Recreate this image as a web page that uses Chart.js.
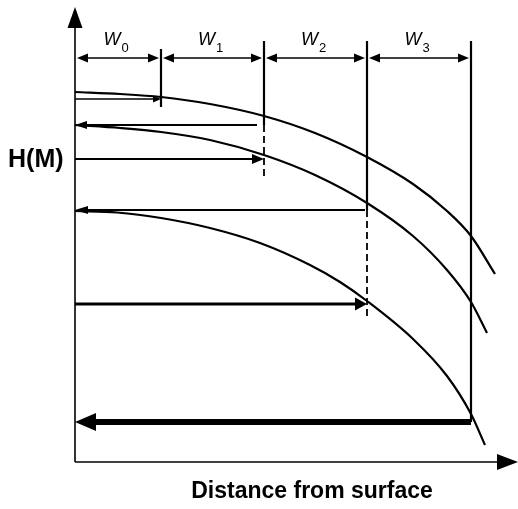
<!DOCTYPE html>
<html>
<head>
<meta charset="utf-8">
<script src="https://cdn.jsdelivr.net/npm/chart.js@4/dist/chart.umd.min.js"></script>
<style>
html, body { margin: 0; padding: 0; background: #fff; }
#wrap { width: 518px; height: 509px; position: relative; }
</style>
</head>
<body>
<div id="wrap"><canvas id="schema"></canvas></div>
<script>
// limites des zones W0..W3 (distance depuis la surface)
const limitesW = [0, 0.86, 1.89, 2.92, 3.96];
const indicesW = ['0', '1', '2', '3'];
const coteY = 4.04;

// courbes H(M)
const courbe1X = [0, 0.45, 0.86, 1.35, 1.89, 2.40, 2.92, 3.38, 3.72, 3.96, 4.20];
const courbe1Y = [3.70, 3.68, 3.65, 3.58, 3.46, 3.29, 3.05, 2.78, 2.51, 2.26, 1.88];
const courbe2X = [0, 0.45, 0.86, 1.35, 1.89, 2.40, 2.92, 3.38, 3.72, 3.96, 4.12];
const courbe2Y = [3.37, 3.34, 3.30, 3.22, 3.07, 2.87, 2.59, 2.26, 1.92, 1.60, 1.29];
const courbe3X = [0, 0.42, 0.86, 1.35, 1.85, 2.35, 2.65, 2.92, 3.38, 3.72, 3.96, 4.10];
const courbe3Y = [2.51, 2.495, 2.44, 2.34, 2.19, 1.97, 1.80, 1.61, 1.23, 0.86, 0.48, 0.17];

// traits verticaux aux limites (partie pleine puis pointillés)
const traitsHaut = [4.13, 4.21, 4.21, 4.21];
const traitsBas = [3.55, 3.37, 2.52, 0.40];
const pointillesBas = [null, 2.85, 1.42, null];

// flèches horizontales
const flechesY = [3.63, 3.37, 3.03, 2.52, 1.58, 0.40];
const flechesDebut = [0, 1.82, 0, 2.90, 0, 3.96];
const flechesFin = [0.86, 0, 1.89, 0, 2.92, 0];

// axes
const axeXMax = 4.43;
const axeYMax = 4.55;

// styles des flèches (épaisseur, longueur et largeur de la tête)
const flechesEpaisseur = [1.6, 2, 2, 2, 3, 6];
const flechesTete = [[8, 7], [12, 8], [12, 10], [13, 8], [12, 13], [21, 18]];

const noir = '#000';
let datasets = [];

function trait(xs, ys, options) {
    datasets.push(Object.assign({
        data: xs.map((x, i) => ({ x: x, y: ys[i] })),
        showLine: true,
        borderColor: noir,
        backgroundColor: noir,
        borderWidth: 2.2,
        pointRadius: 0,
        pointHoverRadius: 0,
        clip: false
    }, options));
}

// courbes
trait(courbe1X, courbe1Y, { cubicInterpolationMode: 'monotone' });
trait(courbe2X, courbe2Y, { cubicInterpolationMode: 'monotone' });
trait(courbe3X, courbe3Y, { cubicInterpolationMode: 'monotone' });

// traits verticaux
for (let i = 0; i < 4; i++) {
    let x = limitesW[i + 1];
    trait([x, x], [traitsHaut[i], traitsBas[i]], {});
    if (pointillesBas[i] !== null) {
        trait([x, x], [traitsBas[i], pointillesBas[i]], { borderDash: [7, 4], borderWidth: 1.8 });
    }
}

// cotes W0..W3
for (let i = 0; i < 4; i++) {
    trait([limitesW[i] + 0.02, limitesW[i + 1] - 0.02], [coteY, coteY], {
        borderWidth: 1.6,
        tete: { debut: true, fin: true, long: 11, larg: 9 }
    });
}

// flèches horizontales
for (let i = 0; i < flechesY.length; i++) {
    trait([flechesDebut[i], flechesFin[i]], [flechesY[i], flechesY[i]], {
        borderWidth: flechesEpaisseur[i],
        tete: { fin: true, long: flechesTete[i][0], larg: flechesTete[i][1] }
    });
}

// axes
trait([0, axeXMax], [0, 0], { borderWidth: 1.6, tete: { fin: true, long: 21, larg: 16 } });
trait([0, 0], [0, axeYMax], { borderWidth: 1.6, tete: { fin: true, long: 21, larg: 15 } });

// direction d'une extrémité
function direction(p, q) {
    let dx = p.x - q.x;
    let dy = p.y - q.y;
    let l = Math.hypot(dx, dy) || 1;
    return { ux: dx / l, uy: dy / l, nx: -dy / l, ny: dx / l };
}

function extremites(ds, pts) {
    let ext = [];
    if (ds.tete.fin) ext.push([pts[pts.length - 1], pts[pts.length - 2]]);
    if (ds.tete.debut) ext.push([pts[0], pts[1]]);
    return ext;
}

// plugin pour les têtes de flèches
const pluginFleches = {
    id: 'fleches',
    beforeDatasetDraw(chart, args) {
        let ds = chart.data.datasets[args.index];
        if (!ds.tete) return;
        let ctx = chart.ctx;
        ctx.save();
        ctx.beginPath();
        ctx.rect(0, 0, chart.width, chart.height);
        extremites(ds, args.meta.data).forEach(([p, q]) => {
            let d = direction(p, q);
            let h = ds.borderWidth / 2 + 1;
            let recul = ds.tete.long * 0.6;
            ctx.moveTo(p.x + d.ux * 3 + d.nx * h, p.y + d.uy * 3 + d.ny * h);
            ctx.lineTo(p.x - d.ux * recul + d.nx * h, p.y - d.uy * recul + d.ny * h);
            ctx.lineTo(p.x - d.ux * recul - d.nx * h, p.y - d.uy * recul - d.ny * h);
            ctx.lineTo(p.x + d.ux * 3 - d.nx * h, p.y + d.uy * 3 - d.ny * h);
            ctx.closePath();
        });
        ctx.clip('evenodd');
    },
    afterDatasetDraw(chart, args) {
        let ds = chart.data.datasets[args.index];
        if (!ds.tete) return;
        let ctx = chart.ctx;
        ctx.restore();
        ctx.save();
        ctx.fillStyle = noir;
        extremites(ds, args.meta.data).forEach(([p, q]) => {
            let d = direction(p, q);
            let bx = p.x - d.ux * ds.tete.long;
            let by = p.y - d.uy * ds.tete.long;
            let w = ds.tete.larg / 2;
            ctx.beginPath();
            ctx.moveTo(p.x, p.y);
            ctx.lineTo(bx + d.nx * w, by + d.ny * w);
            ctx.lineTo(bx - d.nx * w, by - d.ny * w);
            ctx.closePath();
            ctx.fill();
        });
        ctx.restore();
    }
};

// plugin pour les textes
const pluginTextes = {
    id: 'textes',
    afterDraw(chart) {
        let ctx = chart.ctx;
        let sx = chart.scales.x;
        let sy = chart.scales.y;
        ctx.save();
        ctx.fillStyle = noir;
        ctx.textBaseline = 'alphabetic';

        // W0..W3
        for (let i = 0; i < 4; i++) {
            let cx = sx.getPixelForValue((limitesW[i] + limitesW[i + 1]) / 2) - 2;
            let y = sy.getPixelForValue(4.17);
            ctx.font = 'italic 18px "Liberation Sans", Arial, sans-serif';
            let lw = ctx.measureText('W').width;
            ctx.font = '13px "Liberation Sans", Arial, sans-serif';
            let li = ctx.measureText(indicesW[i]).width;
            let x0 = cx - (lw + li + 1) / 2;
            ctx.font = 'italic 18px "Liberation Sans", Arial, sans-serif';
            ctx.textAlign = 'left';
            ctx.fillText('W', x0, y);
            ctx.font = '13px "Liberation Sans", Arial, sans-serif';
            ctx.fillText(indicesW[i], x0 + lw + 1, y + 7);
        }

        // H(M)
        ctx.font = 'bold 25px "Liberation Sans", Arial, sans-serif';
        ctx.textAlign = 'left';
        ctx.textBaseline = 'middle';
        ctx.fillText('H(M)', 8, sy.getPixelForValue(3.02));

        // titre de l'axe horizontal
        ctx.font = 'bold 23px "Liberation Sans", Arial, sans-serif';
        ctx.textAlign = 'center';
        ctx.fillText('Distance from surface', 312, 492);
        ctx.restore();
    }
};

window.onload = () => {
    let canvas = document.getElementById('schema');
    new Chart(canvas, {
        type: 'scatter',
        data: { datasets: datasets },
        options: {
            responsive: true,
            maintainAspectRatio: false,
            animation: false,
            devicePixelRatio: 1,
            events: [],
            layout: { padding: { left: 75, right: 0, top: 7, bottom: 47 } },
            scales: {
                x: { type: 'linear', min: 0, max: axeXMax, display: false },
                y: { type: 'linear', min: 0, max: axeYMax, display: false }
            },
            plugins: {
                legend: { display: false },
                tooltip: { enabled: false }
            }
        },
        plugins: [pluginFleches, pluginTextes]
    });
};
</script>
</body>
</html>
